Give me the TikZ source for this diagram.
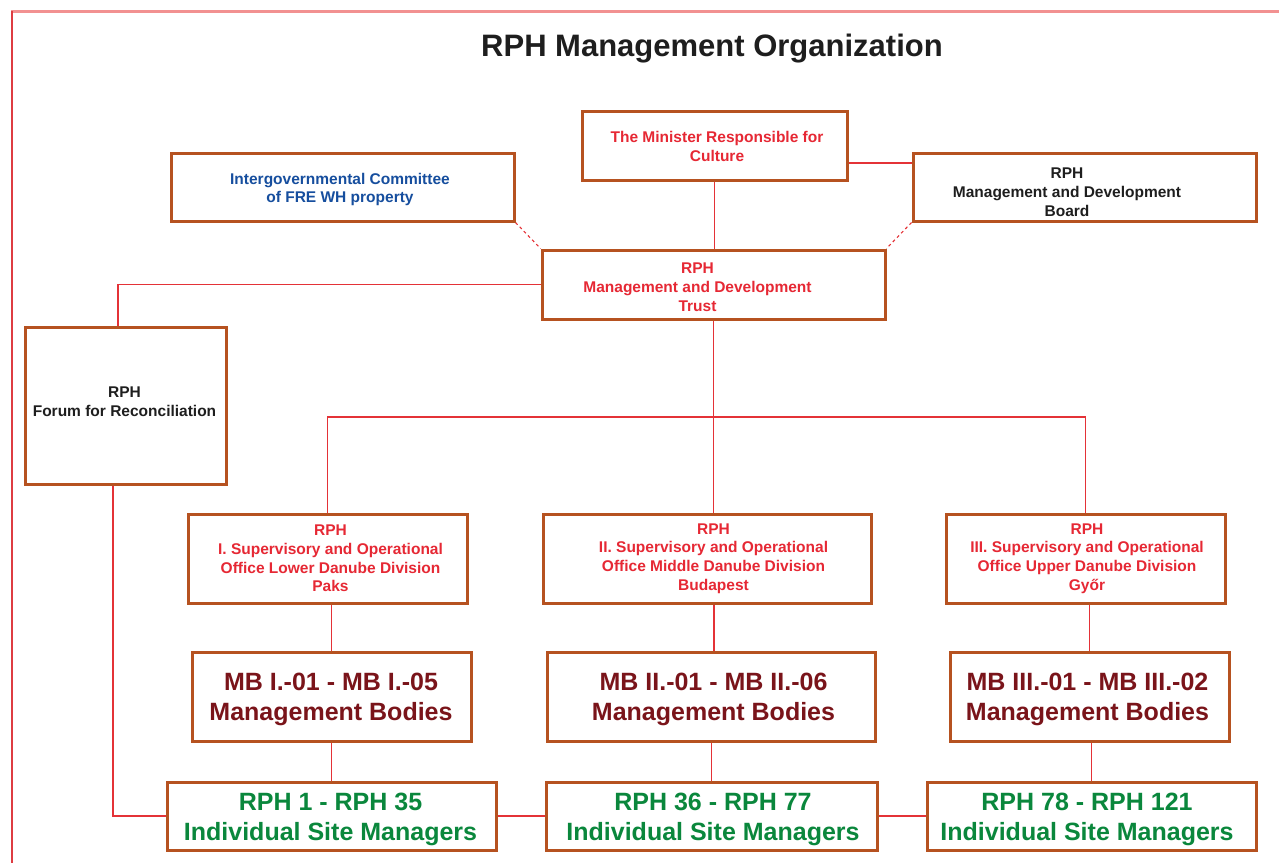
\documentclass[tikz,border=0pt]{standalone}
\usepackage{fontspec}
\setmainfont{Liberation Sans}
\usetikzlibrary{backgrounds}
\definecolor{boxc}{RGB}{182,82,32}
\definecolor{redt}{RGB}{230,40,52}
\definecolor{bluet}{RGB}{22,78,158}
\definecolor{darkr}{RGB}{122,20,26}
\definecolor{greent}{RGB}{10,135,60}
\definecolor{blackt}{RGB}{30,30,30}
\definecolor{linec}{RGB}{228,50,55}
\definecolor{framet}{RGB}{242,145,145}
\definecolor{framel}{RGB}{222,60,66}
\tikzset{
  box/.style={draw=boxc, line width=3pt, inner sep=0pt, fill=white},
  small/.style={inner sep=0pt, align=center, font=\fontsize{15.5}{18.8}\selectfont\bfseries},
  big/.style={inner sep=0pt, align=center, font=\fontsize{25}{30}\selectfont\bfseries},
  conn/.style={draw=linec, line width=1.1pt},
  dashconn/.style={draw=linec, line width=1.1pt, dash pattern=on 3pt off 3pt},
}
\begin{document}
\begin{tikzpicture}[x=1pt,y=-1pt]
\useasboundingbox (0,0) rectangle (1279,863);
% frame
\draw[framet, line width=2.2pt] (11,11.5) -- (1279,11.5);
\draw[framel, line width=2pt] (11.5,10.5) -- (11.5,863);
% title
\node[inner sep=0pt, font=\fontsize{31}{36}\selectfont\bfseries, text=blackt] (title) at (712,48.5) {RPH Management Organization};

% boxes
\node[box, minimum width=265pt, minimum height=69pt] (minister) at (714.5,145.5) {};
\node[box, minimum width=343pt, minimum height=68pt] (intergov) at (342.5,187) {};
\node[box, minimum width=343pt, minimum height=68pt] (board) at (1084.5,187) {};
\node[box, minimum width=343pt, minimum height=69pt] (trust) at (713.5,284.5) {};
\node[box, minimum width=201pt, minimum height=157pt] (forum) at (125.5,405.5) {};
\node[box, minimum width=279pt, minimum height=89pt] (off1) at (327.5,558.5) {};
\node[box, minimum width=328pt, minimum height=89pt] (off2) at (707,558.5) {};
\node[box, minimum width=279pt, minimum height=89pt] (off3) at (1085.5,558.5) {};
\node[box, minimum width=279pt, minimum height=89pt] (mb1) at (331.5,696.5) {};
\node[box, minimum width=328pt, minimum height=89pt] (mb2) at (711,696.5) {};
\node[box, minimum width=279pt, minimum height=89pt] (mb3) at (1089.5,696.5) {};
\node[box, minimum width=329pt, minimum height=68pt] (rph1) at (331.5,816) {};
\node[box, minimum width=331pt, minimum height=68pt] (rph2) at (711.5,816) {};
\node[box, minimum width=329pt, minimum height=68pt] (rph3) at (1091.5,816) {};

% texts
\node[small, text=redt] (tminister) at (717,146.5) {The Minister Responsible for\\Culture};
\node[small, text=bluet] (tintergov) at (340,189.5) {Intergovernmental Committee\\of FRE WH property};
\node[small, text=blackt] (tboard) at (1067,192) {RPH\\Management and Development\\Board};
\node[small, text=redt] (ttrust) at (697.5,287.5) {RPH\\Management and Development\\Trust};
\node[small, text=blackt] (tforum) at (124.5,401.5) {RPH\\Forum for Reconciliation};
\node[small, text=redt] (toff1) at (330.5,558.5) {RPH\\I. Supervisory and Operational\\Office Lower Danube Division\\Paks};
\node[small, text=redt] (toff2) at (713.5,558.5) {RPH\\II. Supervisory and Operational\\Office Middle Danube Division\\Budapest};
\node[small, text=redt] (toff3) at (1087,558.5) {RPH\\III. Supervisory and Operational\\Office Upper Danube Division\\Győr};
\node[big, text=darkr] (tmb1) at (331,699) {MB I.-01 - MB I.-05\\Management Bodies};
\node[big, text=darkr] (tmb2) at (713.5,699) {MB II.-01 - MB II.-06\\Management Bodies};
\node[big, text=darkr] (tmb3) at (1087.5,699) {MB III.-01 - MB III.-02\\Management Bodies};
\node[big, text=greent] (trph1) at (330.5,819) {RPH 1 - RPH 35\\Individual Site Managers};
\node[big, text=greent] (trph2) at (713,819) {RPH 36 - RPH 77\\Individual Site Managers};
\node[big, text=greent] (trph3) at (1087,819) {RPH 78 - RPH 121\\Individual Site Managers};

% connectors, behind the boxes
\coordinate (bus) at (714,417);
\begin{scope}[on background layer]
\draw[conn] (minister.south) -- (minister.south |- trust.north);
\draw[conn] (minister.east |- 0,163) -- (board.west |- 0,163);
\draw[dashconn] (intergov.south east) -- (trust.north west);
\draw[dashconn] (board.south west) -- (trust.north east);
\draw[conn] (trust.west) -| ([xshift=-7.5pt]forum.north);
\draw[conn] (trust.south) -- (trust.south |- off2.north);
\draw[conn] (off1.north) |- (bus) -| (off3.north);
\draw[conn] (mb1.north |- off1.south) -- (mb1.north);
\draw[conn] (bus |- off2.south) -- (bus |- mb2.north);
\draw[conn] (mb3.north |- off3.south) -- (mb3.north);
\draw[conn] (mb1.south) -- (rph1.north);
\draw[conn] (rph2.north |- mb2.south) -- (rph2.north);
\draw[conn] (rph3.north |- mb3.south) -- (rph3.north);
\draw[conn] ([xshift=-12.5pt]forum.south) |- (rph1.west);
\draw[conn] (rph1.east) -- (rph2.west);
\draw[conn] (rph2.east) -- (rph3.west);
\end{scope}
\end{tikzpicture}
\end{document}
